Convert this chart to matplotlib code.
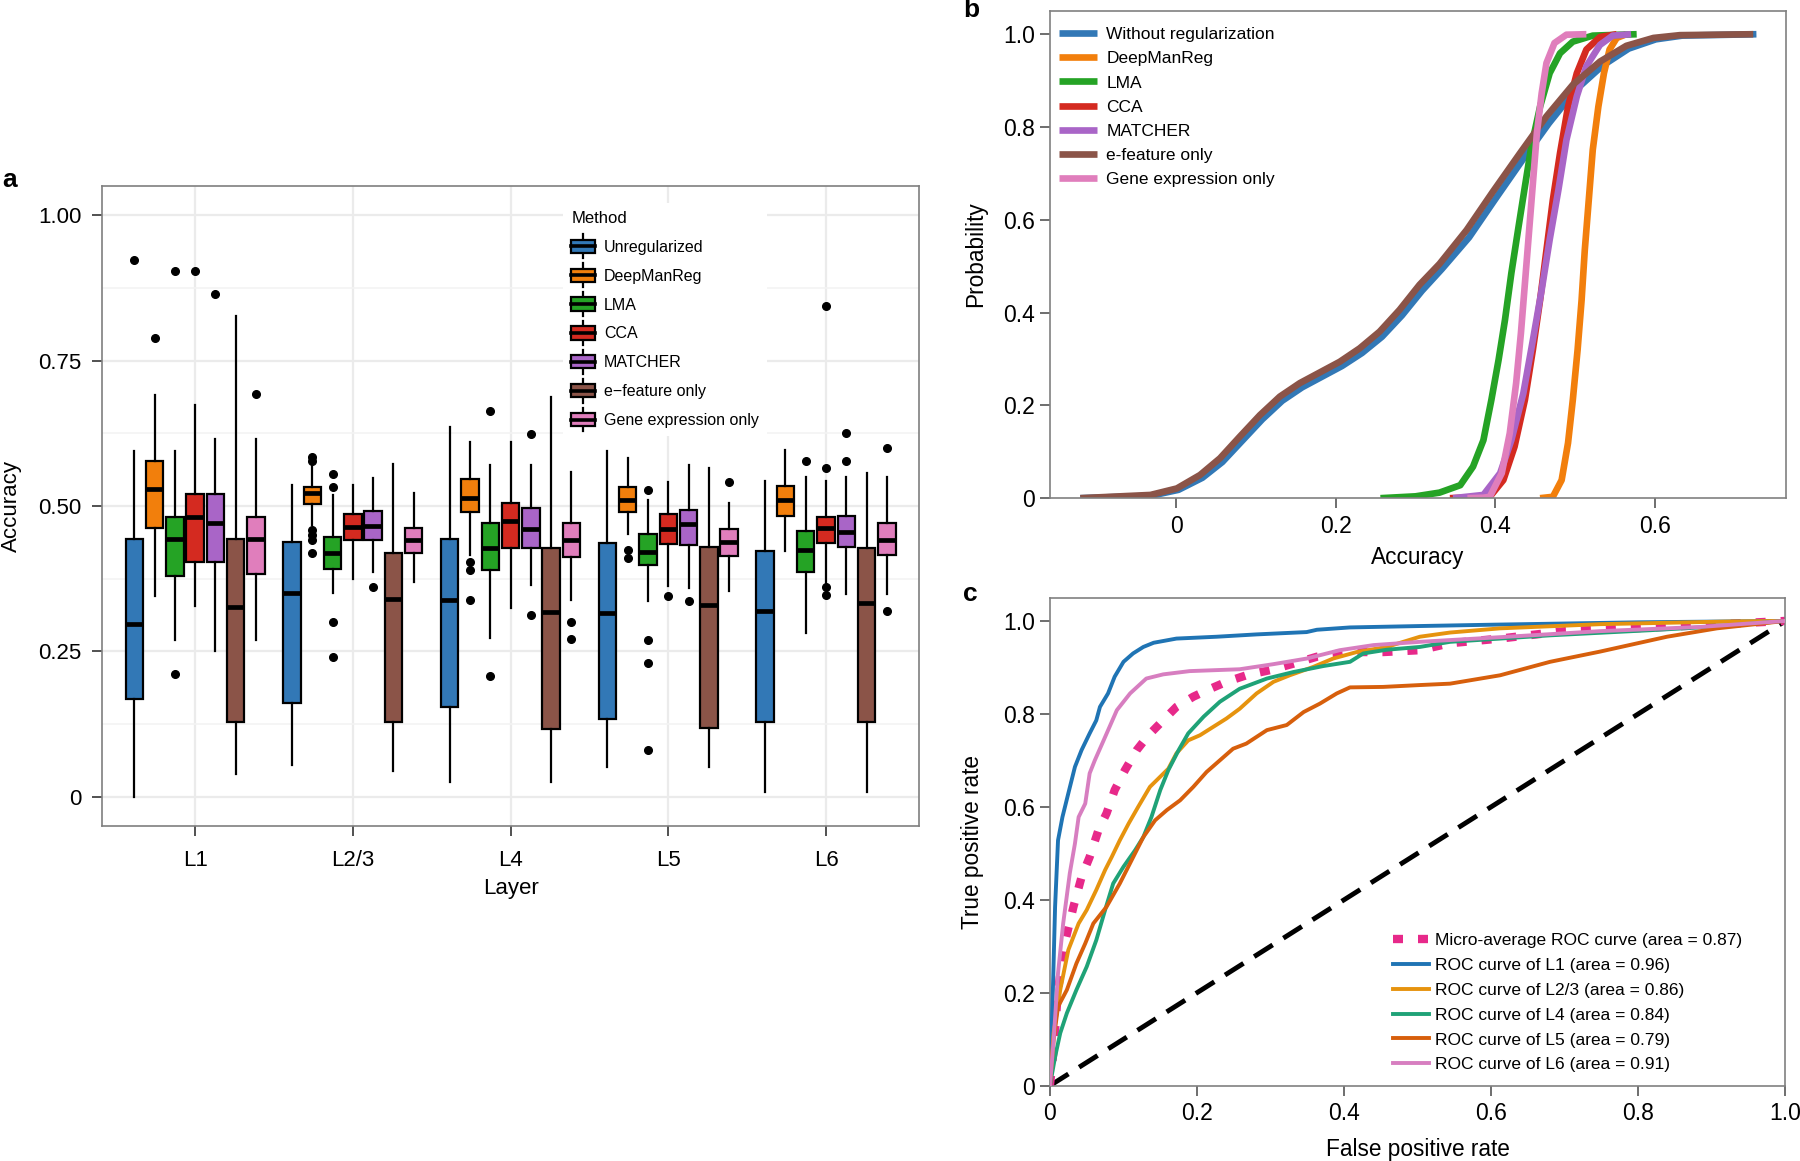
import numpy as np
import matplotlib
matplotlib.use('Agg')
import matplotlib.pyplot as plt
from matplotlib.legend_handler import HandlerBase
from matplotlib.patches import Rectangle, Patch
from matplotlib.lines import Line2D

plt.rcParams['font.family'] = ['Liberation Sans', 'DejaVu Sans']

# ===== Panel a data: box statistics =====
layers = ['L1', 'L2/3', 'L4', 'L5', 'L6']
methods = ['Unregularized', 'DeepManReg', 'LMA', 'CCA', 'MATCHER',
           'e\u2212feature only', 'Gene expression only']
box_colors = ['#3278b6', '#f27f0c', '#25a325', '#d42a20', '#a965c7', '#8b5448', '#e07ebc']

# per method: rows = layers, columns = (whislo, q1, med, q3, whishi)
unreg_stats = [(0.000, 0.168, 0.298, 0.443, 0.595), (0.055, 0.161, 0.350, 0.438, 0.536),
               (0.026, 0.155, 0.338, 0.443, 0.636), (0.052, 0.134, 0.317, 0.436, 0.595),
               (0.008, 0.128, 0.320, 0.423, 0.543)]
deep_stats = [(0.346, 0.462, 0.529, 0.577, 0.691), (0.467, 0.503, 0.523, 0.533, 0.572),
              (0.416, 0.490, 0.513, 0.546, 0.610), (0.452, 0.489, 0.510, 0.532, 0.582),
              (0.423, 0.483, 0.510, 0.534, 0.597)]
lma_stats = [(0.270, 0.380, 0.443, 0.481, 0.595), (0.351, 0.391, 0.419, 0.446, 0.519),
             (0.274, 0.390, 0.428, 0.471, 0.570), (0.337, 0.399, 0.421, 0.452, 0.510),
             (0.281, 0.387, 0.425, 0.457, 0.550)]
cca_stats = [(0.328, 0.404, 0.481, 0.520, 0.673), (0.374, 0.442, 0.464, 0.487, 0.536),
             (0.325, 0.428, 0.475, 0.506, 0.610), (0.363, 0.434, 0.460, 0.487, 0.541),
             (0.367, 0.437, 0.463, 0.481, 0.543)]
matcher_stats = [(0.250, 0.404, 0.471, 0.520, 0.616), (0.387, 0.442, 0.465, 0.491, 0.549),
                 (0.364, 0.428, 0.461, 0.497, 0.571), (0.359, 0.433, 0.469, 0.494, 0.570),
                 (0.349, 0.429, 0.456, 0.483, 0.550)]
efeat_stats = [(0.040, 0.129, 0.327, 0.443, 0.826), (0.045, 0.129, 0.340, 0.419, 0.572),
               (0.026, 0.117, 0.318, 0.428, 0.688), (0.052, 0.119, 0.330, 0.430, 0.566),
               (0.008, 0.129, 0.334, 0.428, 0.557)]
gene_stats = [(0.270, 0.384, 0.443, 0.481, 0.616), (0.369, 0.419, 0.442, 0.463, 0.523),
              (0.338, 0.413, 0.442, 0.471, 0.558), (0.354, 0.414, 0.439, 0.460, 0.506),
              (0.349, 0.416, 0.442, 0.470, 0.550)]

unreg_fliers = [[0.923], [], [], [], []]
deep_fliers = [[0.789], [0.585, 0.578, 0.459, 0.450, 0.441, 0.419], [0.404, 0.390, 0.338],
               [0.424, 0.410], []]
lma_fliers = [[0.904, 0.212], [0.555, 0.532, 0.300, 0.241], [0.663, 0.208],
              [0.527, 0.269, 0.231, 0.081], [0.578]]
cca_fliers = [[0.904], [], [], [0.345], [0.844, 0.565, 0.360, 0.347]]
matcher_fliers = [[0.865], [0.360], [0.624, 0.312], [0.337], [0.626, 0.578]]
efeat_fliers = [[], [], [], [], []]
gene_fliers = [[0.692], [], [0.300, 0.272], [0.541], [0.599, 0.320]]

all_stats = [unreg_stats, deep_stats, lma_stats, cca_stats, matcher_stats, efeat_stats, gene_stats]
all_fliers = [unreg_fliers, deep_fliers, lma_fliers, cca_fliers, matcher_fliers, efeat_fliers, gene_fliers]

# ===== Panel b data: cumulative curves =====
cdf_labels = ['Without regularization', 'DeepManReg', 'LMA', 'CCA', 'MATCHER',
              'e-feature only', 'Gene expression only']
unreg_x = [-0.120, -0.032, 0.003, 0.033, 0.058, 0.083, 0.108, 0.133, 0.158, 0.183, 0.208, 0.233,
           0.258, 0.283, 0.308, 0.333, 0.367, 0.400, 0.434, 0.467, 0.500, 0.534, 0.567, 0.601,
           0.634, 0.727]
unreg_y = [0.000, 0.005, 0.018, 0.044, 0.078, 0.124, 0.170, 0.210, 0.239, 0.262, 0.285, 0.313,
           0.348, 0.394, 0.447, 0.494, 0.562, 0.645, 0.729, 0.808, 0.879, 0.932, 0.969, 0.989,
           0.997, 1.000]
deep_x = [0.456, 0.472, 0.483, 0.491, 0.497, 0.503, 0.508, 0.512, 0.517, 0.522, 0.529, 0.536,
          0.543, 0.552, 0.564]
deep_y = [0.000, 0.003, 0.039, 0.119, 0.212, 0.320, 0.427, 0.535, 0.643, 0.751, 0.844, 0.916,
          0.967, 0.992, 1.000]
lma_x = [0.256, 0.300, 0.330, 0.356, 0.372, 0.385, 0.395, 0.404, 0.412, 0.420, 0.429, 0.437,
         0.445, 0.456, 0.468, 0.481, 0.497, 0.522, 0.577]
lma_y = [0.000, 0.004, 0.012, 0.028, 0.068, 0.125, 0.212, 0.298, 0.384, 0.485, 0.585, 0.672,
         0.758, 0.844, 0.916, 0.959, 0.984, 0.997, 1.000]
cca_x = [0.343, 0.393, 0.410, 0.424, 0.437, 0.447, 0.456, 0.464, 0.472, 0.481, 0.491, 0.502,
         0.514, 0.531, 0.552]
cca_y = [0.000, 0.003, 0.039, 0.111, 0.212, 0.320, 0.427, 0.535, 0.643, 0.744, 0.844, 0.916,
         0.967, 0.994, 1.000]
matcher_x = [0.347, 0.385, 0.406, 0.420, 0.435, 0.447, 0.458, 0.468, 0.479, 0.489, 0.502, 0.514,
             0.531, 0.547, 0.570]
matcher_y = [0.000, 0.007, 0.054, 0.125, 0.226, 0.341, 0.449, 0.557, 0.665, 0.772, 0.866, 0.931,
             0.977, 0.997, 1.000]
efeat_x = [-0.120, -0.032, 0.001, 0.030, 0.055, 0.080, 0.105, 0.130, 0.155, 0.180, 0.205, 0.230,
           0.255, 0.280, 0.305, 0.330, 0.364, 0.397, 0.431, 0.464, 0.497, 0.531, 0.564, 0.598,
           0.631, 0.723]
efeat_y = [0.000, 0.007, 0.021, 0.050, 0.086, 0.133, 0.179, 0.219, 0.248, 0.271, 0.294, 0.323,
           0.359, 0.406, 0.460, 0.505, 0.578, 0.661, 0.744, 0.823, 0.891, 0.941, 0.975, 0.992,
           0.998, 1.000]
gene_x = [0.365, 0.385, 0.393, 0.408, 0.418, 0.426, 0.432, 0.437, 0.442, 0.447, 0.452, 0.458,
          0.464, 0.474, 0.489, 0.514]
gene_y = [0.000, 0.001, 0.003, 0.054, 0.140, 0.248, 0.356, 0.463, 0.571, 0.679, 0.787, 0.873,
          0.938, 0.981, 0.999, 1.000]
cdf_colors = ['#3278b6', '#f27f0c', '#25a325', '#d42a20', '#a965c7', '#8b5448', '#e07ebc']

# ===== Panel c data: ROC curves =====
micro_fpr = [0.0, 0.005, 0.011, 0.020, 0.032, 0.043, 0.054, 0.066, 0.077, 0.088, 0.102, 0.118,
             0.134, 0.152, 0.172, 0.195, 0.218, 0.240, 0.267, 0.299, 0.331, 0.363, 0.408, 0.453,
             0.503, 0.544, 0.612, 0.700, 0.850, 1.0]
micro_tpr = [0.0, 0.077, 0.206, 0.306, 0.385, 0.449, 0.492, 0.550, 0.586, 0.636, 0.679, 0.722,
             0.754, 0.783, 0.815, 0.837, 0.854, 0.869, 0.883, 0.894, 0.908, 0.923, 0.933, 0.933,
             0.937, 0.952, 0.962, 0.978, 0.988, 1.0]
l1_fpr = [0.0, 0.004, 0.007, 0.011, 0.017, 0.025, 0.034, 0.043, 0.054, 0.063, 0.068, 0.079,
          0.088, 0.100, 0.113, 0.127, 0.141, 0.172, 0.227, 0.281, 0.349, 0.363, 0.408, 0.503,
          0.606, 0.800, 1.0]
l1_tpr = [0.0, 0.206, 0.385, 0.528, 0.578, 0.629, 0.686, 0.722, 0.758, 0.786, 0.815, 0.844,
          0.880, 0.912, 0.930, 0.944, 0.953, 0.962, 0.966, 0.971, 0.976, 0.981, 0.986, 0.989,
          0.992, 0.997, 1.0]
l23_fpr = [0.0, 0.005, 0.014, 0.025, 0.039, 0.050, 0.063, 0.075, 0.084, 0.095, 0.107, 0.120,
           0.136, 0.145, 0.161, 0.172, 0.188, 0.204, 0.222, 0.240, 0.258, 0.281, 0.304, 0.326,
           0.358, 0.385, 0.417, 0.458, 0.503, 0.544, 0.612, 0.748, 0.930, 1.0]
l23_tpr = [0.0, 0.113, 0.206, 0.292, 0.349, 0.378, 0.421, 0.464, 0.492, 0.528, 0.564, 0.600,
           0.643, 0.657, 0.682, 0.715, 0.743, 0.754, 0.772, 0.790, 0.811, 0.844, 0.869, 0.883,
           0.901, 0.919, 0.933, 0.944, 0.966, 0.975, 0.984, 0.993, 0.999, 1.0]
l4_fpr = [0.0, 0.007, 0.014, 0.023, 0.036, 0.050, 0.063, 0.075, 0.086, 0.100, 0.116, 0.127,
          0.138, 0.150, 0.161, 0.175, 0.188, 0.209, 0.231, 0.258, 0.295, 0.331, 0.372, 0.408,
          0.426, 0.458, 0.503, 0.544, 0.680, 0.816, 0.907, 1.0]
l4_tpr = [0.0, 0.062, 0.113, 0.156, 0.206, 0.256, 0.313, 0.378, 0.435, 0.471, 0.507, 0.535,
          0.578, 0.636, 0.679, 0.722, 0.758, 0.794, 0.826, 0.854, 0.876, 0.890, 0.903, 0.912,
          0.930, 0.938, 0.944, 0.955, 0.969, 0.980, 0.988, 1.0]
l5_fpr = [0.0, 0.005, 0.011, 0.023, 0.036, 0.048, 0.059, 0.077, 0.095, 0.111, 0.127, 0.143,
          0.159, 0.177, 0.195, 0.213, 0.231, 0.249, 0.267, 0.295, 0.322, 0.345, 0.367, 0.390,
          0.408, 0.453, 0.503, 0.544, 0.612, 0.680, 0.748, 0.839, 0.907, 1.0]
l5_tpr = [0.0, 0.098, 0.170, 0.206, 0.263, 0.306, 0.349, 0.385, 0.435, 0.485, 0.535, 0.571,
          0.593, 0.614, 0.643, 0.675, 0.700, 0.725, 0.736, 0.765, 0.776, 0.804, 0.822, 0.844,
          0.857, 0.858, 0.862, 0.865, 0.883, 0.912, 0.934, 0.966, 0.984, 1.0]
l6_fpr = [0.0, 0.005, 0.011, 0.018, 0.027, 0.034, 0.039, 0.048, 0.054, 0.061, 0.073, 0.091,
          0.109, 0.131, 0.154, 0.190, 0.258, 0.304, 0.349, 0.394, 0.440, 0.503, 0.612, 0.748,
          0.884, 1.0]
l6_tpr = [0.0, 0.098, 0.242, 0.349, 0.457, 0.521, 0.578, 0.607, 0.672, 0.700, 0.743, 0.808,
          0.844, 0.876, 0.885, 0.892, 0.896, 0.907, 0.919, 0.937, 0.948, 0.955, 0.965, 0.978,
          0.987, 1.0]
roc_labels = ['Micro-average ROC curve (area = 0.87)', 'ROC curve of L1 (area = 0.96)',
              'ROC curve of L2/3 (area = 0.86)', 'ROC curve of L4 (area = 0.84)',
              'ROC curve of L5 (area = 0.79)', 'ROC curve of L6 (area = 0.91)']
roc_colors = ['#e7298a', '#1f74b4', '#e6930e', '#1fa277', '#d75f0c', '#d77ec0']


class BoxKey(HandlerBase):
    """ggplot-like boxplot legend key"""
    def create_artists(self, legend, orig_handle, xdescent, ydescent, width, height, fontsize, trans):
        x0, y0 = -xdescent, -ydescent
        cx = x0 + width / 2
        whisk = Line2D([cx, cx], [y0 - 0.4 * height, y0 + 1.4 * height], color='black',
                       lw=1.6, transform=trans)
        box = Rectangle((x0, y0), width, height,
                        facecolor=orig_handle.get_facecolor(), edgecolor='black', lw=1.6,
                        transform=trans)
        med = Line2D([x0, x0 + width], [y0 + height / 2] * 2, color='black', lw=2.6,
                     transform=trans)
        return [whisk, box, med]


def style_frame(ax, color='#808080'):
    for sp in ax.spines.values():
        sp.set_color(color)
        sp.set_linewidth(1.2)


fig = plt.figure(figsize=(18, 11.61), dpi=100)

# ===== Panel a =====
ax_a = fig.add_axes([0.0567, 0.2885, 0.4539, 0.5513])
slot = 0.9 / len(methods)
for j, (stats, fliers) in enumerate(zip(all_stats, all_fliers)):
    bstats = []
    for s, f in zip(stats, fliers):
        bstats.append(dict(whislo=s[0], q1=s[1], med=s[2], q3=s[3], whishi=s[4], fliers=f))
    pos = np.arange(1, len(layers) + 1) + (j - 3) * slot
    ax_a.bxp(bstats, positions=pos, widths=slot * 0.86, patch_artist=True, showcaps=False,
             manage_ticks=False,
             boxprops=dict(facecolor=box_colors[j], edgecolor='black', linewidth=1.6),
             medianprops=dict(color='black', linewidth=3.4, solid_capstyle='butt'),
             whiskerprops=dict(color='black', linewidth=1.6),
             flierprops=dict(marker='o', markerfacecolor='black', markeredgecolor='black',
                             markersize=5.5))
ax_a.set_xlim(0.41, 5.59)
ax_a.set_ylim(-0.05, 1.05)
ax_a.set_xticks(np.arange(1, len(layers) + 1))
ax_a.set_xticklabels(layers)
ax_a.set_yticks([0, 0.25, 0.5, 0.75, 1.0])
ax_a.set_yticklabels(['0', '0.25', '0.50', '0.75', '1.00'])
ax_a.set_yticks([0.125, 0.375, 0.625, 0.875], minor=True)
ax_a.set_axisbelow(True)
ax_a.grid(which='major', color='#EBEBEB', lw=1.6)
ax_a.grid(which='minor', axis='y', color='#F3F3F3', lw=1.2)
ax_a.tick_params(axis='both', which='major', labelsize=16, length=7, width=1.2, color='#333333')
ax_a.tick_params(axis='y', pad=8)
ax_a.tick_params(axis='x', pad=10)
ax_a.tick_params(which='minor', length=0)
style_frame(ax_a, '#7F7F7F')
ax_a.set_xlabel('Layer', fontsize=16)
ax_a.set_ylabel('Accuracy', fontsize=16)
ax_a.xaxis.set_label_coords(0.5, -0.081)
ax_a.yaxis.set_label_coords(-0.098, 0.5)

handles_a = [Patch(facecolor=c) for c in box_colors]
leg_a = ax_a.legend(handles_a, methods, title='Method', handler_map={Patch: BoxKey()},
                    loc='upper left', bbox_to_anchor=(0.555, 0.986), frameon=True,
                    facecolor='white', edgecolor='none', framealpha=1, fancybox=False,
                    fontsize=11.5, title_fontsize=12, handlelength=1.45, handleheight=0.9,
                    handletextpad=0.6, labelspacing=0.86, borderpad=0.5, alignment='left')
fig.text(0.001, 0.835, 'a', fontsize=19, fontweight='bold', va='bottom')

# ===== Panel b =====
ax_b = fig.add_axes([0.5833, 0.5709, 0.4089, 0.4196])
cdf_x = [unreg_x, deep_x, lma_x, cca_x, matcher_x, efeat_x, gene_x]
cdf_y = [unreg_y, deep_y, lma_y, cca_y, matcher_y, efeat_y, gene_y]
for xs, ys, c, lab in zip(cdf_x, cdf_y, cdf_colors, cdf_labels):
    ax_b.plot(xs, ys, color=c, lw=4.8, label=lab, solid_capstyle='butt')
ax_b.set_xlim(-0.158, 0.764)
ax_b.set_ylim(0, 1.05)
ax_b.set_xticks([0, 0.2, 0.4, 0.6])
ax_b.set_xticklabels(['0', '0.2', '0.4', '0.6'])
ax_b.set_yticks([0, 0.2, 0.4, 0.6, 0.8, 1.0])
ax_b.set_yticklabels(['0', '0.2', '0.4', '0.6', '0.8', '1.0'])
ax_b.tick_params(labelsize=16.5, length=7, width=1.2, color='#555555')
ax_b.tick_params(axis='y', pad=4)
ax_b.tick_params(axis='x', pad=5)
style_frame(ax_b)
ax_b.set_xlabel('Accuracy', fontsize=16.3)
ax_b.set_ylabel('Probability', fontsize=16.3)
ax_b.xaxis.set_label_coords(0.5, -0.098)
ax_b.yaxis.set_label_coords(-0.0856, 0.5)
ax_b.legend(loc='upper left', bbox_to_anchor=(0.0, 0.985), frameon=False, fontsize=12.5,
            handlelength=2.2, handletextpad=0.55, labelspacing=0.52, borderpad=0.2,
            borderaxespad=0.3)
fig.text(0.535, 0.981, 'b', fontsize=19, fontweight='bold', va='bottom')

# ===== Panel c =====
ax_c = fig.add_axes([0.5833, 0.0649, 0.4086, 0.4203])
roc_fpr = [micro_fpr, l1_fpr, l23_fpr, l4_fpr, l5_fpr, l6_fpr]
roc_tpr = [micro_tpr, l1_tpr, l23_tpr, l4_tpr, l5_tpr, l6_tpr]
ax_c.plot([0, 1], [0, 1], color='black', lw=3.5, linestyle=(0, (4.5, 2.6)))
for k, (xs, ys, c, lab) in enumerate(zip(roc_fpr, roc_tpr, roc_colors, roc_labels)):
    if k == 0:
        ax_c.plot(xs, ys, color=c, lw=6, linestyle=(0, (1.2, 1.8)), label=lab, zorder=2)
    else:
        ax_c.plot(xs, ys, color=c, lw=2.8, label=lab, zorder=3)
ax_c.set_xlim(0, 1.0)
ax_c.set_ylim(0, 1.05)
ticks_c = [0, 0.2, 0.4, 0.6, 0.8, 1.0]
ax_c.set_xticks(ticks_c)
ax_c.set_xticklabels(['0', '0.2', '0.4', '0.6', '0.8', '1.0'])
ax_c.set_yticks(ticks_c)
ax_c.set_yticklabels(['0', '0.2', '0.4', '0.6', '0.8', '1.0'])
ax_c.tick_params(labelsize=16.5, length=7, width=1.2, color='#555555')
ax_c.tick_params(axis='y', pad=4)
ax_c.tick_params(axis='x', pad=5)
style_frame(ax_c)
ax_c.set_xlabel('False positive rate', fontsize=16.3)
ax_c.set_ylabel('True positive rate', fontsize=16.3)
ax_c.xaxis.set_label_coords(0.5, -0.107)
ax_c.yaxis.set_label_coords(-0.0897, 0.5)
ax_c.legend(loc='lower left', bbox_to_anchor=(0.462, 0.02), frameon=False, fontsize=12.5,
            handlelength=2.07, handletextpad=0.35, labelspacing=0.56, borderpad=0.2,
            borderaxespad=0.0)
fig.text(0.535, 0.478, 'c', fontsize=19, fontweight='bold', va='bottom')

fig.savefig('out.png', dpi=100)
